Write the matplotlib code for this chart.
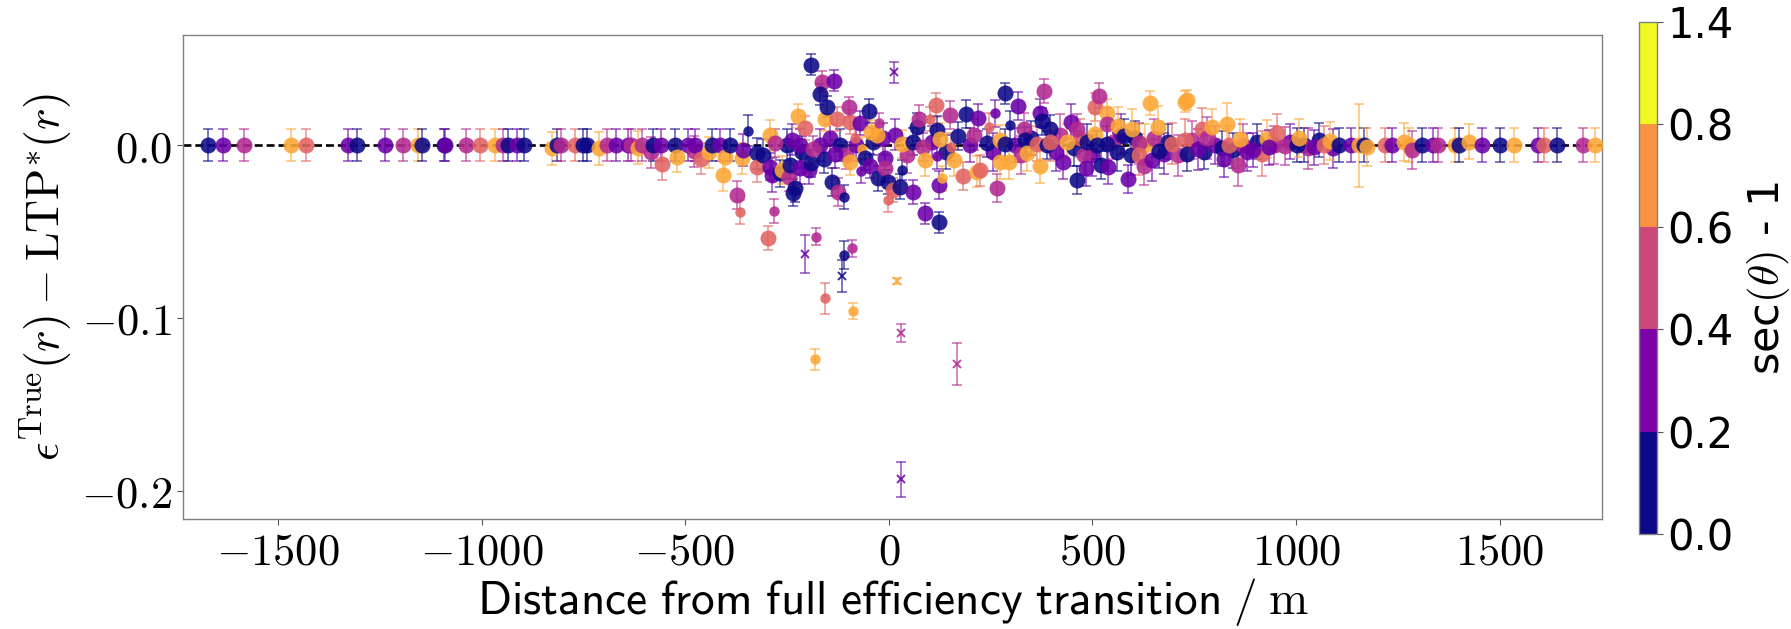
import numpy as np
import matplotlib
matplotlib.use("Agg")
import matplotlib.pyplot as plt
from matplotlib import colors as mcolors
from matplotlib.ticker import FuncFormatter, FixedLocator
import matplotlib.colorbar as mcolorbar

plt.rcParams['font.family'] = ['DejaVu Sans']
plt.rcParams['mathtext.fontset'] = 'cm'

# ---------------- data ----------------
# zenith bins (sec(theta)-1): 0:[0,0.2) 1:[0.2,0.4) 2:[0.4,0.6) 3:[0.6,0.8) 4:[0.8,1.4)
bin_edges = [0.0, 0.2, 0.4, 0.6, 0.8, 1.4]
cbar_labels = ["0.0", "0.2", "0.4", "0.6", "0.8", "1.4"]

# distance from full efficiency transition (m)
dist = [
    -1672, -1636, -1584, -1467, -1431, -1329, -1307, -1237, -1193, -1156, -1145,
    -1092, -1089, -1038, -1003, -967, -948, -934, -913, -895,
    -828, -815, -806, -771, -750, -742, -712, -692, -670, -640, -632, -615, -607,
    -583, -578, -560, -556, -524, -521, -492, -478, -476, -461, -442, -435, -415,
    -408, -403, -390, -373, -365, -361, -357, -346, -324, -323, -308, -296, -291,
    -291, -287, -283, -279, -267, -263,
    -246, -242, -235, -230, -224, -218, -218, -205, -205, -197, -192, -185, -182,
    -178, -156, -156, -152, -140, -132, -128, -126, -115, -190, -110, -110, -165,
    -170, -95, -95, -91, -88, -83, -70, -68, -66, -58, -135, -48, -46, -44, -28,
    -26, -98, -23, -9, -9, -1, -1,
    11, 21, 28, 31, 31, 32, 32, 60, 60, 69, 75, 85, 89, 89, 12, 100, 116, 118,
    118, 122, 122, 126, 130, 150, 152, 159, 168, 171, 183, 190, 216, 220, 224,
    241, 245, 261, 265, 273, 273, 286, 286, 294, 298,
    318, 332, 335, 339, 363, 371, 371, 376, 380, 388, 396, 396, 427, 437, 448,
    461, 462, 480, 483, 486, 506, 506, 511, 517, 521, 535, 535, 535, 537, 563,
    578, 588, 594, 598, 613, 615, 626, 641, 646, 661, 663, 695,
    727, 731, 728, 733, 760, 768, 782, 793, 817, 824, 830, 836, 857, 861, 895,
    929, 933, 953, 972, 1001, 1006, 1045, 1069, 1084,
    1106, 1135, 1155, 1166, 1173, 1217, 1235, 1264, 1278, 1285, 1310, 1337, 1349,
    1390, 1399, 1425, 1456, 1501, 1535, 1594, 1608, 1640, 1705, 1734,
]

# residual eps_true - LTP*
resid = [
    0, 0, 0, 0, 0, 0, 0, 0, 0, 0, 0,
    0, 0, 0, 0, 0, 0, 0, 0, 0,
    -0.0019, 0, 0, 0, 0, 0, -0.0019, 0, 0, 0, 0, -0.0015, 0,
    -0.0042, 0, 0, -0.0108, 0, -0.0067, 0, -0.0035, 0, -0.0078, -0.0042, 0, 0,
    -0.0175, -0.0067, 0, -0.029, -0.0385, -0.0077, -0.0029, 0.0082, -0.0048, -0.0125, -0.0058, -0.0539, 0.0056,
    -0.0125, -0.0173, -0.0382, 0.0011, -0.0164, -0.0145,
    -0.0187, -0.0116, -0.0275, -0.025, 0.0168, -0.0135, 0.0, 0.010, -0.063, -0.0145, -0.0106, -0.0025, -0.1239,
    -0.053, 0.015, -0.0886, 0.0222, -0.0212, -0.0052, 0.0149, -0.027, -0.0755, 0.0465, -0.0299, -0.0636, 0.0366,
    0.0293, 0.0135, -0.0096, -0.0597, -0.096, 0.0042, 0.0127, -0.015, -0.0025, -0.0077, 0.0372, 0.0197, -0.0121, 0.0077, 0.0056,
    -0.0193, 0.022, 0.0127, -0.0077, -0.0135, -0.0212, -0.0318,
    -0.0258, -0.0786, -0.024, -0.1085, -0.1933, 0.0006, -0.0145, 0.002, -0.027, 0.0106, 0.015, -0.0013, -0.0087, -0.0395, 0.042, 0.0149, 0.0231, 0.0087,
    -0.0066, -0.0231, -0.0447, 0.0035, -0.0193, 0.0173, -0.0013, -0.0087, -0.1266, 0.0052, -0.0179, 0.0179, -0.0155, 0.0159, -0.0145,
    0.0013, 0.0106, 0.0183, -0.025, 0.0027, -0.0096, 0.0299, 0.0003, -0.0096, 0.0115,
    0.0225, 0.0094, 0.0027, -0.0048, 0.0008, 0.0187, -0.0121, 0.0136, 0.0314, 0.0, 0.0094, 0.002, -0.0096, 0.002, 0.0135,
    0.0091, -0.0202, -0.0055, -0.0135, 0.002, 0.0221, 0.0064, 0.0, 0.0286, -0.0116, 0.0187, 0.0123, 0.0008, -0.0125, 0.011,
    0.0053, -0.0198, -0.0056, 0.0091, 0.0009, -0.0056, -0.0121, 0.0241, -0.0087, 0.0106, -0.0035, 0.0008,
    0.025, 0.026, 0.0029, -0.005, -0.0025, 0.0094, 0.0042, 0.0106, -0.0019, -0.0083, 0.0121, 0.0, -0.0116, 0.0033, -0.0029,
    0.0033, -0.0013, 0.0071, -0.0006, 0, 0.0039, -0.0013, 0, 0.0023,
    0, 0, 0, 0, -0.001, 0, 0, 0.002, 0, -0.003, 0, 0, 0,
    0, 0, 0.002, 0, 0, 0, 0, 0, 0, 0, 0,
]

# uncertainty on residual
resid_err = [
    0.0095, 0.0095, 0.0095, 0.0095, 0.0095, 0.0095, 0.0095, 0.0095, 0.0095, 0.0095, 0.0095,
    0.0095, 0.0095, 0.0095, 0.0095, 0.0095, 0.0095, 0.0095, 0.0095, 0.0095,
    0.0095, 0.0095, 0.0095, 0.0095, 0.0095, 0.0095, 0.0095, 0.0095, 0.0095, 0.0095, 0.0095, 0.0095, 0.0095,
    0.009, 0.0095, 0.0095, 0.0096, 0.0095, 0.009, 0.0095, 0.009, 0.0095, 0.009, 0.009, 0.0095, 0.0095,
    0.009, 0.009, 0.009, 0.008, 0.007, 0.009, 0.009, 0.009, 0.009, 0.009, 0.009, 0.007, 0.009,
    0.008, 0.010, 0.007, 0.008, 0.008, 0.008,
    0.008, 0.008, 0.008, 0.008, 0.007, 0.009, 0.009, 0.007, 0.011, 0.008, 0.008, 0.008, 0.0062,
    0.005, 0.007, 0.009, 0.006, 0.008, 0.008, 0.007, 0.008, 0.0092, 0.006, 0.007, 0.008, 0.006,
    0.006, 0.007, 0.008, 0.005, 0.0046, 0.007, 0.007, 0.007, 0.007, 0.007, 0.006, 0.007, 0.007, 0.007, 0.007,
    0.007, 0.006, 0.006, 0.007, 0.008, 0.007, 0.007,
    0.007, 0.002, 0.007, 0.0052, 0.0103, 0.008, 0.006, 0.008, 0.007, 0.008, 0.008, 0.008, 0.009, 0.006, 0.006, 0.007, 0.007, 0.008,
    0.007, 0.008, 0.006, 0.009, 0.007, 0.008, 0.008, 0.009, 0.012, 0.008, 0.008, 0.008, 0.009, 0.008, 0.009,
    0.008, 0.008, 0.008, 0.008, 0.009, 0.010, 0.006, 0.009, 0.010, 0.008,
    0.008, 0.009, 0.008, 0.010, 0.010, 0.008, 0.010, 0.008, 0.007, 0.008, 0.008, 0.011, 0.010, 0.010, 0.010,
    0.009, 0.008, 0.012, 0.010, 0.010, 0.008, 0.012, 0.008, 0.007, 0.008, 0.008, 0.009, 0.010, 0.010, 0.011,
    0.010, 0.008, 0.012, 0.012, 0.012, 0.012, 0.011, 0.007, 0.012, 0.012, 0.010, 0.012,
    0.006, 0.006, 0.012, 0.010, 0.012, 0.012, 0.012, 0.010, 0.010, 0.010, 0.012, 0.011, 0.012, 0.012, 0.010,
    0.011, 0.010, 0.011, 0.011, 0.010, 0.011, 0.010, 0.011, 0.011,
    0.010, 0.010, 0.024, 0.010, 0.011, 0.010, 0.010, 0.011, 0.010, 0.011, 0.010, 0.010, 0.010,
    0.010, 0.010, 0.010, 0.010, 0.010, 0.010, 0.010, 0.010, 0.010, 0.010, 0.010,
]

# sec(theta)-1 bin index
zen_bin = [
    0, 1, 2, 4, 3, 1, 0, 1, 2, 4, 0,
    0, 1, 2, 3, 4, 2, 0, 1, 0,
    4, 0, 2, 3, 0, 0, 4, 2, 1, 1, 2, 4, 2,
    2, 0, 1, 3, 0, 4, 1, 2, 1, 3, 4, 0, 1,
    4, 4, 0, 2, 3, 4, 1, 0, 0, 3, 0, 3, 4,
    1, 1, 2, 2, 0, 4,
    2, 0, 0, 0, 4, 1, 1, 3, 1, 1, 0, 2, 4,
    2, 4, 3, 0, 0, 1, 3, 2, 0, 0, 0, 0, 2,
    0, 3, 4, 2, 4, 3, 1, 1, 4, 0, 1, 0, 1, 4, 4,
    0, 2, 2, 1, 2, 0, 3,
    3, 4, 0, 2, 1, 4, 0, 0, 1, 0, 2, 2, 4, 1, 1, 3, 3, 0,
    1, 1, 0, 4, 4, 2, 3, 4, 2, 0, 3, 0, 4, 1, 3,
    0, 3, 1, 2, 4, 4, 0, 0, 4, 0,
    1, 2, 0, 4, 3, 1, 4, 0, 2, 0, 0, 3, 1, 4, 1,
    2, 0, 2, 1, 0, 3, 4, 0, 2, 0, 4, 2, 0, 1, 4,
    0, 1, 0, 4, 2, 3, 2, 4, 1, 4, 0, 3,
    4, 4, 3, 0, 1, 3, 2, 4, 0, 1, 4, 3, 2, 4, 1,
    4, 1, 3, 2, 0, 4, 1, 3, 4,
    0, 1, 4, 0, 4, 3, 1, 4, 4, 2, 0, 1, 2,
    4, 0, 4, 1, 0, 4, 1, 3, 0, 2, 4,
]

# marker class: 0 large circle, 1 small circle, 2 cross
mclass = [
    0, 0, 0, 0, 0, 0, 0, 0, 0, 0, 0,
    0, 0, 0, 0, 0, 0, 0, 0, 0,
    0, 0, 0, 0, 0, 0, 0, 0, 0, 0, 0, 0, 0,
    0, 0, 0, 0, 0, 0, 0, 0, 0, 0, 0, 0, 0,
    0, 0, 0, 0, 1, 0, 0, 1, 0, 0, 0, 0, 0,
    0, 0, 1, 0, 0, 0,
    0, 0, 0, 0, 0, 0, 0, 0, 2, 0, 0, 0, 1,
    1, 0, 1, 0, 0, 0, 0, 0, 2, 0, 1, 1, 0,
    0, 0, 0, 1, 1, 1, 0, 1, 1, 0, 0, 0, 0, 0, 0,
    0, 0, 1, 0, 0, 0, 1,
    0, 2, 0, 2, 2, 0, 1, 0, 0, 0, 0, 0, 0, 0, 2, 1, 0, 0,
    1, 0, 0, 0, 1, 0, 1, 0, 2, 0, 0, 0, 0, 0, 0,
    0, 1, 1, 0, 0, 0, 0, 0, 0, 1,
    0, 0, 0, 0, 0, 0, 0, 0, 0, 0, 0, 0, 0, 0, 0,
    0, 0, 0, 0, 0, 0, 0, 0, 0, 0, 0, 0, 0, 0, 0,
    0, 0, 0, 0, 0, 0, 0, 0, 0, 0, 0, 0,
    0, 0, 0, 0, 0, 0, 0, 0, 0, 0, 0, 0, 0, 0, 0,
    0, 0, 0, 0, 0, 0, 0, 0, 0,
    0, 0, 0, 0, 0, 0, 0, 0, 0, 0, 0, 0, 0,
    0, 0, 0, 0, 0, 0, 0, 0, 0, 0, 0,
]

# additional points lying close to the zero line in the dense central band
dense_dist = [
    -250, -238, -212, -170, -160, -145, -120, -105, -80, -38, -15,
    15, 45, 105, 140, 200, 210, 255,
    310, 325, 350, 410, 420, 455, 470, 500, 550, 560, 570, 605, 630, 650, 675, 685, 710,
    745, 775, 800, 845, 870, 880, 905, 915, 945, 985, 1020, 1030, 1055, 1090,
]
dense_resid = [
    0.0, 0.003, -0.004, 0.0, -0.008, 0.004, 0.0, -0.006, 0.0, 0.002, 0.004,
    0.006, -0.006, 0.002, -0.004, 0.0, 0.006, -0.004,
    0.0, -0.006, 0.004, -0.004, 0.006, -0.002, 0.004, -0.006, 0.002, -0.004, 0.006, 0.004, 0.0, 0.004, -0.005, 0.002, -0.006,
    0.003, -0.004, 0.0, -0.003, 0.0, -0.004, 0.002, -0.005, 0.0, 0.002, 0.0, -0.002, 0.003, -0.002,
]
dense_err = [
    0.009, 0.009, 0.009, 0.009, 0.008, 0.008, 0.009, 0.008, 0.009, 0.008, 0.009,
    0.009, 0.010, 0.009, 0.010, 0.010, 0.009, 0.011,
    0.010, 0.011, 0.010, 0.011, 0.012, 0.010, 0.011, 0.012, 0.010, 0.011, 0.012, 0.010, 0.012, 0.011, 0.012, 0.010, 0.012,
    0.011, 0.010, 0.011, 0.010, 0.012, 0.011, 0.010, 0.013, 0.011, 0.010, 0.010, 0.012, 0.010, 0.011,
]
dense_bin = [
    0, 1, 0, 1, 0, 1, 0, 2, 1, 0, 1,
    1, 2, 1, 0, 1, 2, 1,
    1, 2, 0, 1, 2, 0, 3, 1, 2, 0, 1, 0, 4, 2, 1, 0, 2,
    2, 0, 1, 0, 2, 1, 0, 3, 2, 1, 0, 2, 0, 1,
]

# ---------------- figure ----------------
W, H = 1791, 629
fig = plt.figure(figsize=(W / 100, H / 100), dpi=100)
ax = fig.add_axes([183 / W, 1 - 519 / H, (1602 - 183) / W, (519 - 35) / H])
cax = fig.add_axes([1639 / W, 1 - 534 / H, 18 / W, (534 - 22) / H])

cmap = plt.get_cmap('plasma')
point_cols = [cmap(bin_edges[b]) for b in range(5)]

ax.axhline(0, color='k', ls=(0, (3, 1.5)), lw=1.9, zorder=2)

all_dist = dist + dense_dist
all_resid = resid + dense_resid
all_err = resid_err + dense_err
all_bin = zen_bin + dense_bin
all_cls = mclass + [0] * len(dense_dist)

# draw the dense band first, then the main points on top
order = list(range(len(dist), len(all_dist))) + list(range(len(dist)))

ms_map = {0: 11.5, 1: 7.5, 2: 5.5}
for i in order:
    xi, yi, ei, bi, mi = all_dist[i], all_resid[i], all_err[i], all_bin[i], all_cls[i]
    c = point_cols[bi]
    ax.errorbar([xi], [yi], yerr=[ei], fmt='none', ecolor=c, elinewidth=1.4,
                capsize=3.8, capthick=1.4, alpha=0.55, zorder=3)
    if mi == 2:
        ax.plot([xi], [yi], marker='x', ms=ms_map[mi], mew=1.4, color=c,
                alpha=0.85, ls='none', zorder=4)
    else:
        ax.plot([xi], [yi], marker='o', ms=ms_map[mi], mew=0, color=c,
                alpha=0.88, ls='none', zorder=4)

ax.set_xlim(-1733, 1751)
ax.set_ylim(-0.2162, 0.0636)
ax.xaxis.set_major_locator(FixedLocator([-1500, -1000, -500, 0, 500, 1000, 1500]))
ax.yaxis.set_major_locator(FixedLocator([-0.2, -0.1, 0.0]))
ax.xaxis.set_major_formatter(FuncFormatter(lambda v, p: r"$%d$" % int(round(v))))
ax.yaxis.set_major_formatter(FuncFormatter(lambda v, p: r"$%.1f$" % v))
ax.tick_params(axis='both', labelsize=32, direction='out', length=4, width=0.8,
               color='#555555', pad=4)
for s in ax.spines.values():
    s.set_color('#808080')
    s.set_linewidth(1.0)

ax.set_xlabel(r"$\mathsf{Distance\ from\ full\ efficiency\ transition}\;/\;\mathrm{m}$",
              fontsize=34, labelpad=2)
ax.set_ylabel(r"$\epsilon^{\rm True}(r) - {\rm LTP}^{*}(r)$", fontsize=33, labelpad=4)

norm = mcolors.BoundaryNorm(bin_edges, cmap.N)
cb = mcolorbar.ColorbarBase(cax, cmap=cmap, norm=norm, boundaries=bin_edges,
                            spacing='uniform', ticks=bin_edges)
cb.set_ticklabels(cbar_labels)
cb.ax.tick_params(labelsize=30, length=4, width=0.8, color='#555555')
cb.outline.set_edgecolor('#808080')
cb.outline.set_linewidth(1.0)
cb.set_label(r"sec$(\theta)$ - 1", fontsize=31, labelpad=8)

fig.savefig("out.png", dpi=100)
